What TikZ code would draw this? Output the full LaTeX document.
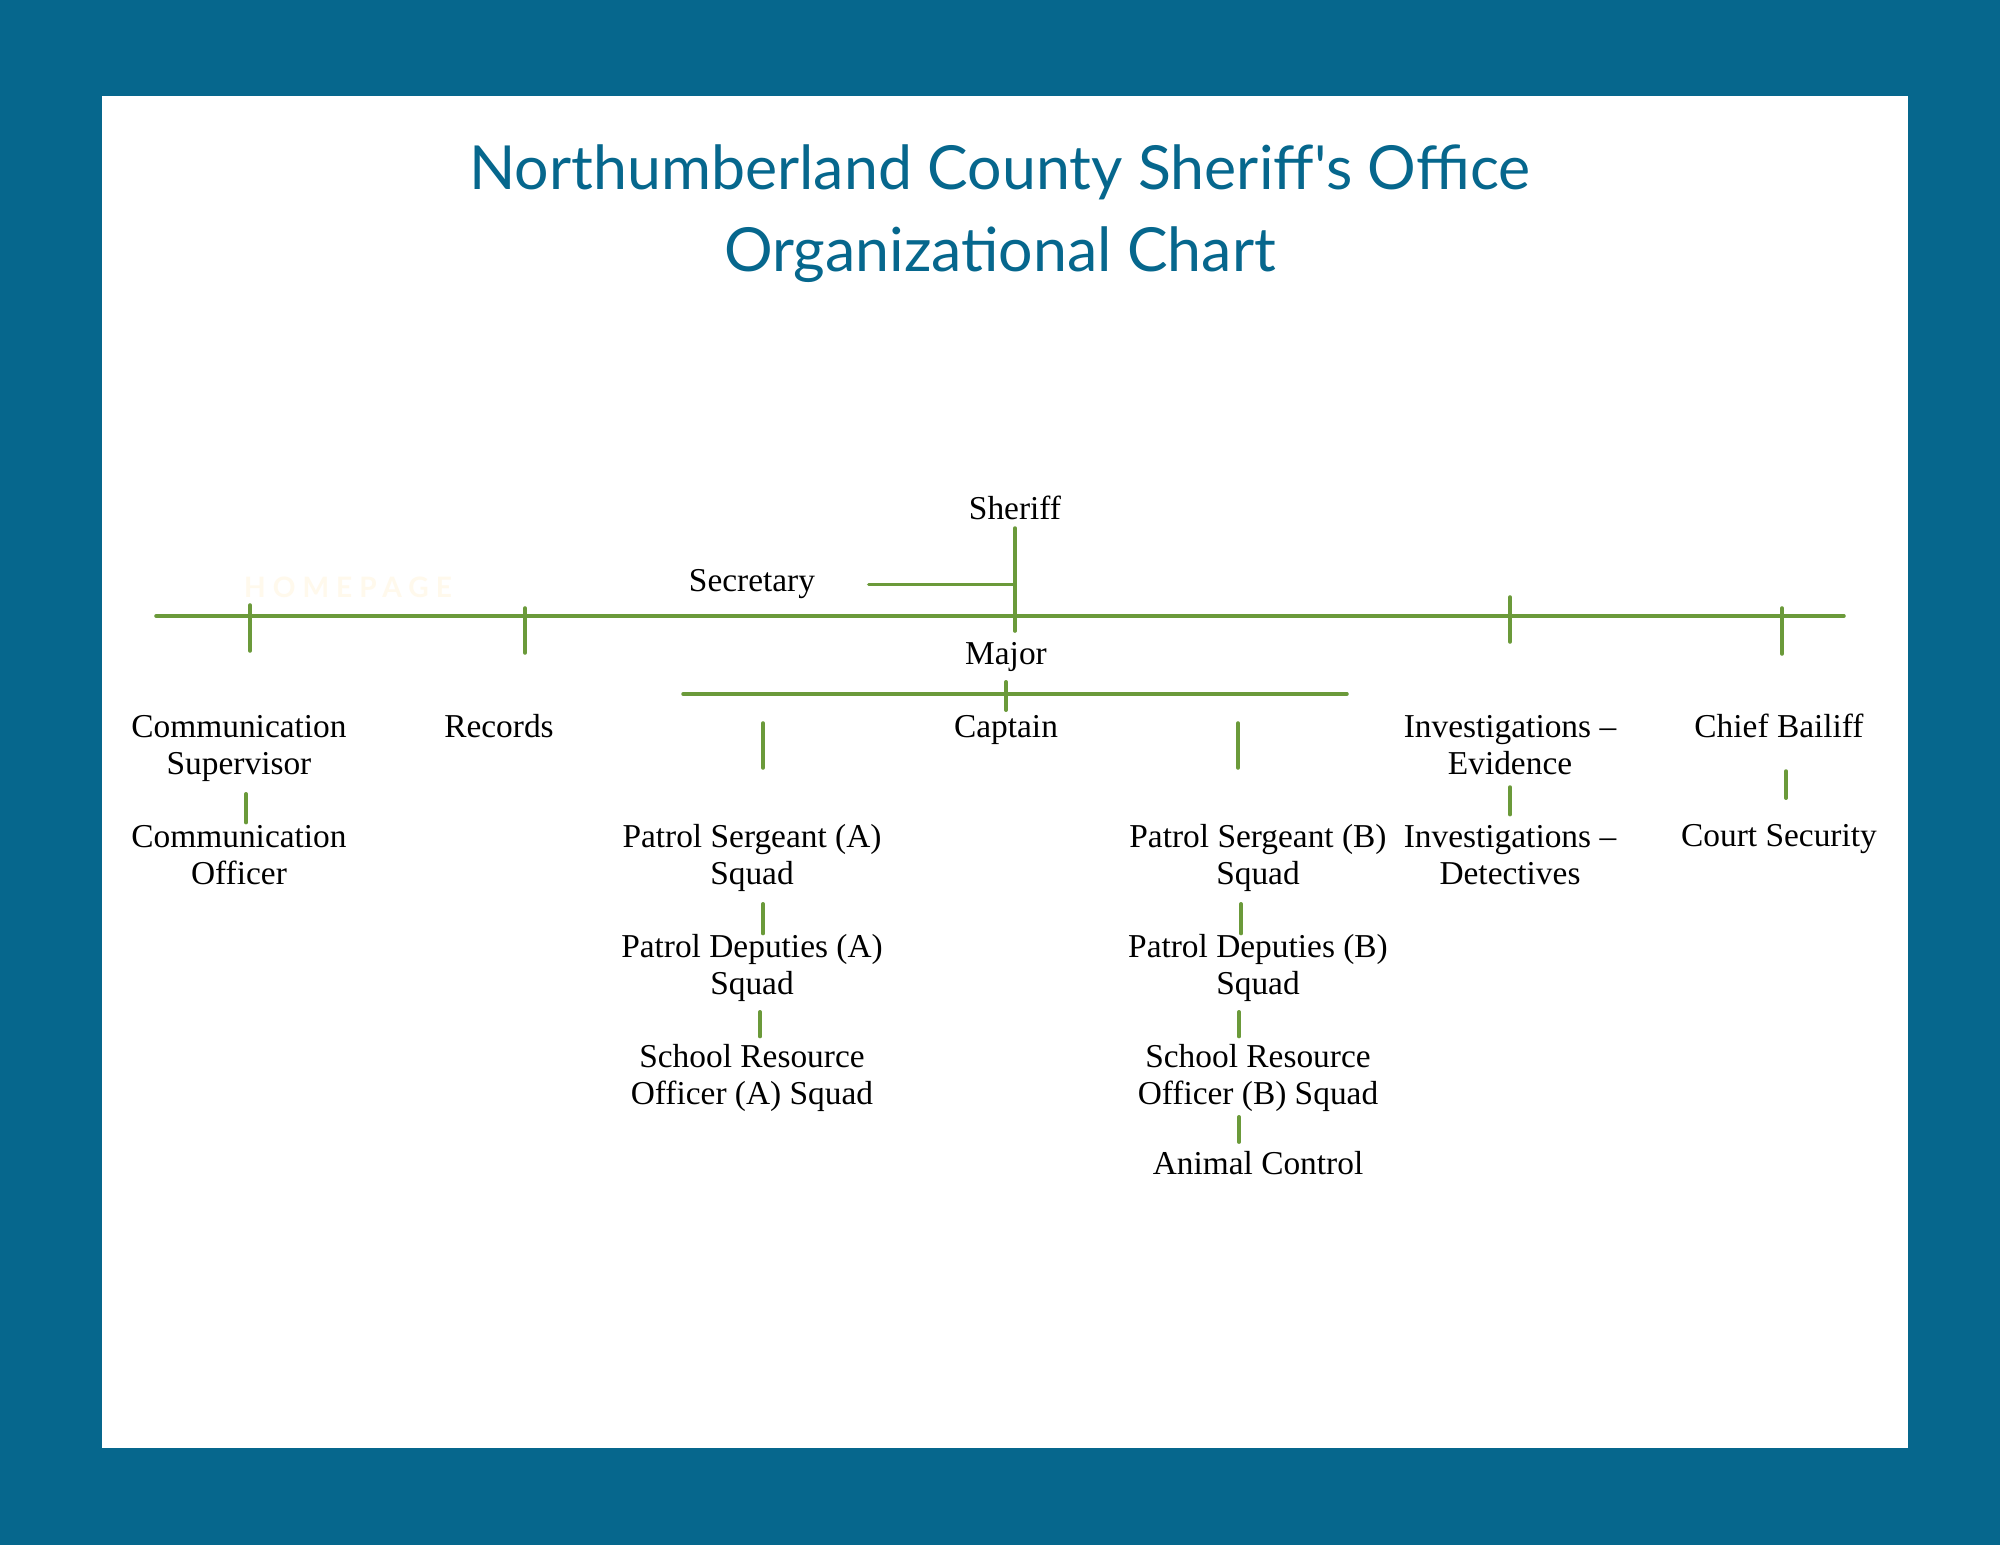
\documentclass[tikz,border=0pt]{standalone}
\usepackage{fontspec}
\setmainfont{Liberation Serif}
\newfontfamily\titlefont{Lato}
\usetikzlibrary{positioning}
\definecolor{frameteal}{HTML}{06678D}
\definecolor{linegreen}{HTML}{6B9A3A}
\definecolor{markcream}{RGB}{255,249,236}

\begin{document}
\begin{tikzpicture}[
  role/.style={align=center, inner sep=0pt, anchor=base, font=\fontsize{9.5}{10.4}\selectfont},
  heading/.style={text=frameteal, inner sep=0pt, anchor=base, font=\titlefont\fontsize{17.3}{20}\selectfont},
  link/.style={draw=linegreen, line width=1pt, line cap=round}
]
\useasboundingbox (0,0) rectangle (20,-15.45);
\fill[frameteal] (0,0) rectangle (20,-15.45);
\fill[white] (1.02,-0.96) rectangle (19.08,-14.48);

% title
\node[heading] (title1) at (10,-1.90) {Northumberland County Sheriff's Office};
\node[heading] (title2) at (10,-2.72) {Organizational Chart};
\node[inner sep=0pt, text=markcream, font=\titlefont\bfseries\fontsize{8}{8}\selectfont\addfontfeatures{LetterSpace=25}] (mark) at (3.48,-5.87) {HOMEPAGE};

% command (base = last line)
\node[role] (sheriff) at (10.15,-5.20) {Sheriff};
\node[role] (secretary) at (7.52,-5.92) {Secretary};
\node[role] (major) at (10.06,-6.64) {Major};
\node[role] (captain) at (10.06,-7.37) {Captain};

% divisions
\node[role] (commsup) at (2.39,-7.74) {Communication\\Supervisor};
\node[role] (commoff) at (2.39,-8.84) {Communication\\Officer};
\node[role] (records) at (4.99,-7.37) {Records};
\node[role] (sgtA) at (7.52,-8.84) {Patrol Sergeant (A)\\Squad};
\node[role] (depA) at (7.52,-9.94) {Patrol Deputies (A)\\Squad};
\node[role] (sroA) at (7.52,-11.04) {School Resource\\Officer (A) Squad};
\node[role] (sgtB) at (12.58,-8.84) {Patrol Sergeant (B)\\Squad};
\node[role] (depB) at (12.58,-9.94) {Patrol Deputies (B)\\Squad};
\node[role] (sroB) at (12.58,-11.04) {School Resource\\Officer (B) Squad};
\node[role] (animal) at (12.58,-11.74) {Animal Control};
\node[role] (invev) at (15.10,-7.74) {Investigations –\\Evidence};
\node[role] (invdet) at (15.10,-8.84) {Investigations –\\Detectives};
\node[role] (bailiff) at (17.79,-7.37) {Chief Bailiff};
\node[role] (court) at (17.79,-8.46) {Court Security};

% bus lines
\coordinate (busL) at (1.56,-6.16);
\coordinate (busR) at (18.44,-6.16);
\coordinate (tComm) at (2.50,-6.16);
\coordinate (tRec) at (5.25,-6.16);
\coordinate (tInv) at (15.10,-6.16);
\coordinate (tBail) at (17.82,-6.16);
\coordinate (barL) at (6.83,-6.94);
\coordinate (barR) at (13.47,-6.94);
\coordinate (dropA) at (7.63,-7.23);
\coordinate (dropB) at (12.38,-7.23);

\draw[link] (busL) -- (busR);
\foreach \tk/\up/\dn in {tComm/0.11cm/-0.35cm, tRec/0.08cm/-0.37cm, tInv/0.19cm/-0.26cm, tBail/0.08cm/-0.38cm}
  \draw[link] ([yshift=\up]\tk) -- ([yshift=\dn]\tk);
\draw[link] ([yshift=-0.07cm]sheriff.south) -- ([yshift=-1.10cm]sheriff.south);
\draw[link] ([xshift=0.53cm]secretary.east) -- (secretary.east -| sheriff.south);
\draw[link] (barL) -- (barR);
\draw[link, shorten <=0.10cm, shorten >=0.04cm] (major.south) -- (captain.north);
\draw[link] (dropA) -- ++(0,-0.45);
\draw[link] (dropB) -- ++(0,-0.45);

% chains
\foreach \a/\b/\dx/\s/\e in {sgtA/depA/0.11/0.12/0.0, depA/sroA/0.08/0.10/0.07,
    sgtB/depB/-0.17/0.12/0.0, depB/sroB/-0.19/0.10/0.07, sroB/animal/-0.19/0.05/0.08,
    commsup/commoff/0.07/0.12/0.02, invev/invdet/0.0/0.12/0.10, bailiff/court/0.07/0.33/0.25}
  \draw[link, shorten <=\s cm, shorten >=\e cm] ([xshift=\dx cm]\a.south) -- ([xshift=\dx cm]\b.north);
\end{tikzpicture}
\end{document}
